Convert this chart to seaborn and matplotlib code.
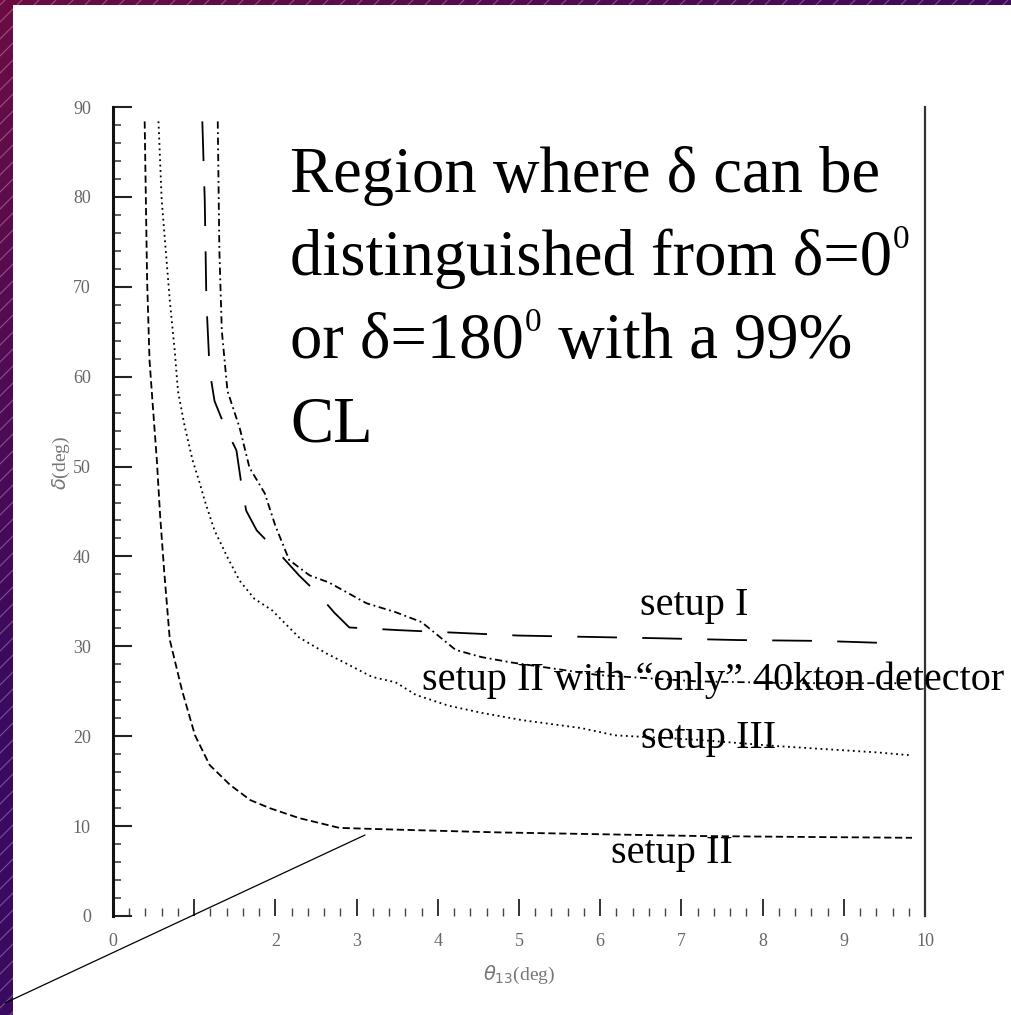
import numpy as np
import pandas as pd
import matplotlib
matplotlib.use("Agg")
import matplotlib.pyplot as plt
from matplotlib.patches import Rectangle
from matplotlib.lines import Line2D
import seaborn as sns

# theta13 (deg) versus delta (deg) contours, one pair of lists per setup
theta_setup_I = [1.10, 1.13, 1.15, 1.19, 1.25, 1.37, 1.52, 1.58, 1.64, 1.77, 2.09, 2.29,
                 2.54, 2.72, 2.91, 3.52, 4.01, 4.99, 6.71, 7.69, 8.74, 9.41]
delta_setup_I = [88.4, 79.6, 68.4, 60.7, 57.3, 54.6, 51.8, 48.1, 45.1, 42.9, 39.9, 37.9,
                 35.7, 33.8, 32.1, 31.8, 31.6, 31.2, 30.9, 30.7, 30.6, 30.4]

theta_setup_II = [0.39, 0.42, 0.45, 0.49, 0.54, 0.58, 0.63, 0.70, 0.85, 1.01, 1.19, 1.44,
                  1.69, 1.93, 2.29, 2.79, 3.52, 4.75, 5.98, 7.20, 8.43, 9.84]
delta_setup_II = [88.4, 70.7, 61.8, 56.8, 50.7, 44.6, 38.4, 30.7, 25.1, 20.1, 16.8, 14.6,
                  12.9, 12.0, 10.9, 9.8, 9.6, 9.3, 9.1, 8.9, 8.8, 8.7]

theta_setup_III = [0.56, 0.60, 0.66, 0.70, 0.76, 0.80, 0.88, 0.98, 1.07, 1.13, 1.25, 1.41,
                   1.56, 1.74, 1.96, 2.29, 2.63, 2.87, 3.19, 3.48, 3.73, 4.13, 4.54, 5.03,
                   5.36, 5.77, 6.18, 7.20, 8.18, 9.41, 9.80]
delta_setup_III = [88.4, 79.6, 72.9, 68.4, 62.9, 58.4, 54.6, 50.7, 48.1, 46.2, 42.9, 39.9,
                   37.3, 35.3, 34.0, 31.0, 29.2, 28.1, 26.6, 26.0, 24.6, 23.4, 22.6, 21.8,
                   21.4, 20.9, 20.1, 19.6, 18.9, 18.2, 17.9]

theta_setup_II_40kt = [1.29, 1.31, 1.34, 1.41, 1.56, 1.68, 1.87, 2.00, 2.17, 2.42, 2.66,
                       3.12, 3.48, 3.80, 4.22, 4.54, 4.91, 5.98, 7.20, 8.43, 9.78]
delta_setup_II_40kt = [88.4, 74.0, 65.1, 58.4, 54.3, 49.9, 47.0, 43.4, 39.6, 37.9, 37.1,
                       34.8, 33.8, 32.7, 29.6, 28.8, 28.2, 26.8, 26.1, 25.9, 25.9]

x_ticks = [0, 1, 2, 3, 4, 5, 6, 7, 8, 9, 10]
x_tick_labels = ["0", "", "2", "3", "4", "5", "6", "7", "8", "9", "10"]
y_ticks = [0, 10, 20, 30, 40, 50, 60, 70, 80, 90]
y_tick_labels = ["0", "10", "20", "30", "40", "50", "60", "70", "80", "90"]

curves = {
    "setup I": (theta_setup_I, delta_setup_I),
    "setup II": (theta_setup_II, delta_setup_II),
    "setup III": (theta_setup_III, delta_setup_III),
    "setup II 40kton": (theta_setup_II_40kt, delta_setup_II_40kt),
}
df = pd.concat(
    [pd.DataFrame({"theta13": t, "delta": d, "setup": name}) for name, (t, d) in curves.items()],
    ignore_index=True,
)

sns.set_theme(style="white")
plt.rcParams["font.family"] = ["Liberation Serif", "DejaVu Serif"]

W, H = 1011, 1015
fig = plt.figure(figsize=(W / 100, H / 100), dpi=100)

# slide background: purple gradient frame with diagonal stripes, white page
bg = fig.add_axes([0, 0, 1, 1], zorder=0)
yy, xx = np.mgrid[0:H:5, 0:W:5]
t = np.clip((0.6 * xx + yy) / 700.0, 0, 1)[..., None]
c0 = np.array([0.42, 0.05, 0.26])
c1 = np.array([0.22, 0.04, 0.38])
bg.imshow(c0 * (1 - t) + c1 * t, extent=(0, W, H, 0), aspect="auto", interpolation="bilinear")
for c in np.arange(-1100, 2200, 17):
    bg.plot([c, c - H], [0, H], color=(1.0, 0.8, 0.9, 0.35), lw=0.8)
bg.add_patch(Rectangle((13, 5), W, H, facecolor="white", edgecolor="none", zorder=5))
bg.set_xlim(0, W)
bg.set_ylim(H, 0)
bg.axis("off")

# plot area
ax = fig.add_axes([113 / W, 1 - 916 / H, (925 - 113) / W, (916 - 107) / H], zorder=1)
ax.patch.set_alpha(0)
sns.lineplot(
    data=df, x="theta13", y="delta", hue="setup", style="setup",
    palette={k: "black" for k in curves},
    dashes={
        "setup I": (22, 14),
        "setup II": (4, 2),
        "setup III": (1, 2),
        "setup II 40kton": (4, 2, 1, 2),
    },
    sort=False, estimator=None, legend=False, linewidth=1.3, ax=ax,
)
ax.set_xlim(0, 10)
ax.set_ylim(0, 90)

ax.set_xticks(x_ticks)
ax.set_xticklabels(x_tick_labels)
ax.set_xticks(np.arange(0, 10.01, 0.2), minor=True)
ax.set_yticks(y_ticks)
ax.set_yticklabels(y_tick_labels)
ax.set_yticks(np.arange(0, 90.01, 2), minor=True)
ax.tick_params(axis="x", which="major", direction="in", length=12, width=1.3,
               bottom=True, top=False, pad=12, labelsize=13, color="#222", labelcolor="#666")
ax.tick_params(axis="x", which="minor", direction="in", length=6, width=1.0,
               bottom=True, top=False, color="#444")
ax.tick_params(axis="y", which="major", direction="in", length=14, width=1.5,
               left=True, right=False, pad=16, labelsize=13, color="#222", labelcolor="#666")
ax.tick_params(axis="y", which="minor", direction="in", length=6, width=1.2,
               left=True, right=False, color="#444")
for side in ("top", "bottom"):
    ax.spines[side].set_visible(False)
ax.spines["left"].set_color("#111")
ax.spines["left"].set_linewidth(2.2)
ax.spines["right"].set_color("#333")
ax.spines["right"].set_linewidth(1.6)

ax.set_xlabel(r"$\theta_{13}$(deg)", fontsize=14, color="#777", labelpad=10)
ax.set_ylabel(r"$\delta$(deg)", fontsize=14, color="#777")
ax.yaxis.set_label_coords(-0.05, 0.56)

# annotations
big = dict(fontsize=46.5, color="black", va="baseline", ha="left", transform=bg.transData)
renderer = fig.canvas.get_renderer()


def line_with_degree(x, y, head, tail=""):
    """Write head, a small raised degree-zero, then tail on one baseline."""
    t1 = fig.text(x, y, head, **big)
    x1 = bg.transData.inverted().transform(t1.get_window_extent(renderer))[1, 0]
    t2 = fig.text(x1 + 1, y - 27, "0", fontsize=24, color="black", va="baseline",
                  ha="left", transform=bg.transData)
    if tail:
        x2 = bg.transData.inverted().transform(t2.get_window_extent(renderer))[1, 0]
        fig.text(x2, y, tail, **big)


fig.text(290, 192, "Region where δ can be", **big)
line_with_degree(290, 275, "distinguished from δ=0")
line_with_degree(290, 358, "or δ=180", " with a 99%")
fig.text(290, 441, "CL", **big)

small = dict(fontsize=29, color="black", va="baseline", ha="left", transform=bg.transData)
fig.text(640, 615, "setup I", **small)
fig.text(422, 690, "setup II with \u201conly\u201d 40kton detector", **small)
fig.text(641, 748, "setup III", **small)
fig.text(611, 863, "setup II", **small)

fig.add_artist(Line2D([5, 365], [1003, 835], transform=bg.transData, color="black", lw=0.9))

fig.savefig("out.png", dpi=100)
